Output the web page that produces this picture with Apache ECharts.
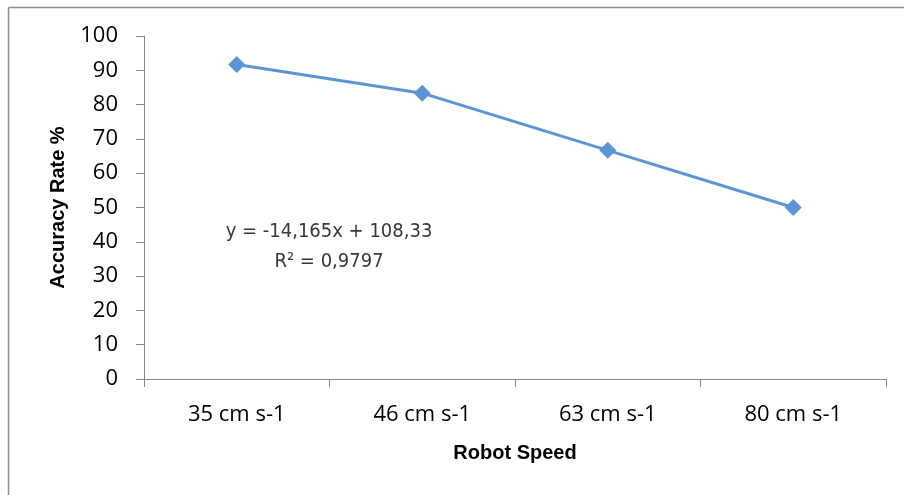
<!DOCTYPE html>
<html>
<head>
<meta charset="utf-8">
<script src="https://cdn.jsdelivr.net/npm/echarts@6/dist/echarts.min.js"></script>
<style>
  html, body { margin: 0; padding: 0; background: #ffffff; }
  #chart { width: 905px; height: 495px; }
</style>
</head>
<body>
<div id="chart"></div>
<script>
// Robot speed categories and measured accuracy (%)
const speeds = ['35 cm s-1', '46 cm s-1', '63 cm s-1', '80 cm s-1'];
const accuracy = [91.67, 83.33, 66.67, 50];
const yTicks = { min: 0, max: 100, interval: 10 };
const trendLabel = ['y = -14,165x + 108,33', 'R\u00b2 = 0,9797'];

const axisGray = '#868686';
const labelFont = "'Open Sans', 'Liberation Sans', sans-serif";
const titleFont = "'Liberation Sans', sans-serif";
const eqFont = "'DejaVu Sans Condensed', 'Liberation Sans', sans-serif";
const chart = echarts.init(document.getElementById('chart'), null, { renderer: 'canvas' });

chart.setOption({
  animation: false,
  backgroundColor: '#ffffff',
  grid: { left: 144, right: 19, top: 36, bottom: 116 },
  xAxis: {
    type: 'category',
    data: speeds,
    boundaryGap: true,
    name: 'Robot Speed',
    nameLocation: 'middle',
    nameGap: 64,
    nameTextStyle: { fontFamily: titleFont, fontWeight: 'bold', fontSize: 20, color: '#000' },
    axisLine: { lineStyle: { color: axisGray, width: 1 } },
    axisTick: { show: true, length: 8, alignWithLabel: false, lineStyle: { color: axisGray } },
    axisLabel: { fontFamily: labelFont, fontSize: 22, color: '#000', margin: 25 },
    splitLine: { show: false }
  },
  yAxis: {
    type: 'value',
    min: yTicks.min,
    max: yTicks.max,
    interval: yTicks.interval,
    name: 'Accuracy Rate %',
    nameLocation: 'middle',
    nameGap: 76,
    nameTextStyle: { fontFamily: titleFont, fontWeight: 'bold', fontSize: 20, color: '#000' },
    axisLine: { show: true, lineStyle: { color: axisGray, width: 1 } },
    axisTick: { show: true, length: 8, lineStyle: { color: axisGray } },
    axisLabel: { fontFamily: labelFont, fontSize: 22, color: '#000', margin: 26 },
    splitLine: { show: false }
  },
  series: [{
    type: 'line',
    data: accuracy,
    symbol: 'diamond',
    symbolSize: 17,
    lineStyle: { color: '#5B95D5', width: 3 },
    itemStyle: { color: '#5B95D5' }
  }],
  graphic: [
    // chart frame (top and left edges)
    { type: 'line', shape: { x1: 8.5, y1: 7.5, x2: 904, y2: 7.5 }, style: { stroke: '#8c8c8c', lineWidth: 1.5 } },
    { type: 'line', shape: { x1: 8.5, y1: 7.5, x2: 8.5, y2: 495 }, style: { stroke: '#8c8c8c', lineWidth: 1.5 } },
    // trendline equation
    {
      type: 'text', x: 329, y: 232,
      style: {
        text: trendLabel[0], fontFamily: eqFont, fontSize: 20,
        fill: '#383838', align: 'center', verticalAlign: 'middle'
      }
    },
    {
      type: 'text', x: 329, y: 262,
      style: {
        text: trendLabel[1], fontFamily: eqFont, fontSize: 20,
        fill: '#383838', align: 'center', verticalAlign: 'middle'
      }
    }
  ]
});
</script>
</body>
</html>
